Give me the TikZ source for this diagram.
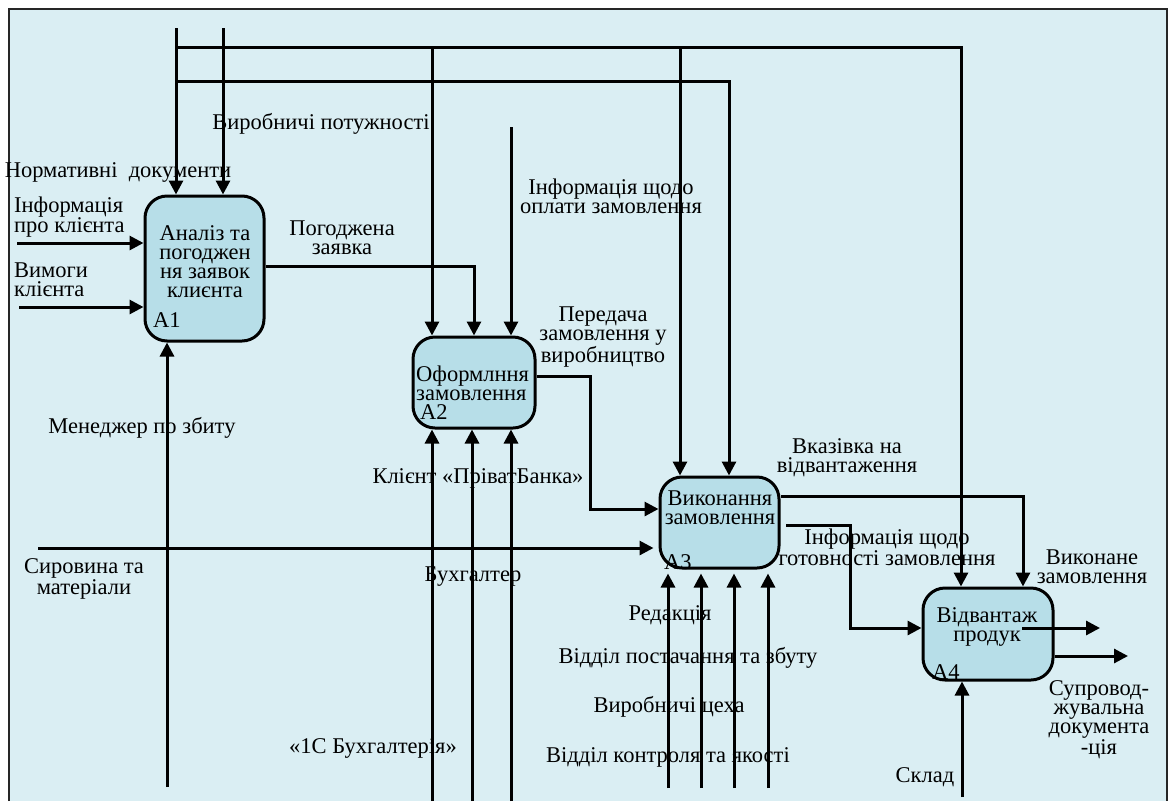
\documentclass[tikz,border=0pt]{standalone}
\usepackage{fontspec}
\setmainfont{Liberation Serif}
\usetikzlibrary{arrows.meta}
\definecolor{paper}{HTML}{DAEEF3}
\definecolor{boxfill}{HTML}{B7DEE8}

\begin{document}
\begin{tikzpicture}[x=1pt, y=-1pt,
  font=\fontsize{22.5}{19}\selectfont,
  func/.style={draw, line width=3pt, rounded corners=22pt, fill=boxfill},
  lbl/.style={inner sep=0pt, align=center},
  flow/.style={line width=3pt, -{Triangle[length=14pt,width=14pt]}}]
  \useasboundingbox (0,0) rectangle (1172,801);
  \fill[paper] (9,9) rectangle (1167,801);
  \draw[line width=2pt, black!85] (9,801) -- (9,9) -- (1167,9) -- (1167,801);

  % blocks A1..A4
  \node[func, minimum width=119pt, minimum height=145pt] (a1) at (204.5,268.5) {};
  \node[func, minimum width=122pt, minimum height=91pt] (a2) at (474,382.5) {};
  \node[func, minimum width=119pt, minimum height=91pt] (a3) at (719.5,522.5) {};
  \node[func, minimum width=130pt, minimum height=92pt] (a4) at (988,634) {};
  \node[lbl] (a1txt) at (205,262) {Аналіз та\\погоджен\\ня заявок\\клиєнта};
  \node[lbl, align=left, anchor=west] (a2txt) at (416,383) {Оформлння\\замовлення};
  \node[lbl] (a3txt) at (720,508) {Виконання\\замовлення};
  \node[lbl] (a4txt) at (987,627) {Відвантаж\\продук};
  \node[lbl, anchor=west] (a1num) at (153,320) {A1};
  \node[lbl, anchor=west] (a2num) at (420,412) {A2};
  \node[lbl, anchor=west] (a3num) at (664,562) {A3};
  \node[lbl, anchor=west] (a4num) at (932,672) {A4};

  % free ends and bends
  \coordinate (nd) at (176,28);
  \coordinate (vp) at (223,28);
  \coordinate (t1) at (176,47);
  \coordinate (p1) at (961,47);
  \coordinate (t2) at (176,81);
  \coordinate (p2) at (729,81);
  \coordinate (p3) at (432,47);
  \coordinate (p4) at (680,47);
  \coordinate (io) at (511,127);
  \coordinate (p5) at (474,266);
  \coordinate (p6) at (590,376);
  \coordinate (p7) at (590,509);
  \coordinate (p8) at (1023,496);
  \coordinate (p9) at (786,525);
  \coordinate (p10) at (850,525);
  \coordinate (p11) at (850,628);
  \coordinate (p12) at (1022,628);
  \coordinate (ik) at (17,243);
  \coordinate (vk) at (19,307);
  \coordinate (sm) at (38,548);
  \coordinate (mz) at (167,787);
  \coordinate (kp) at (432,801);
  \coordinate (bh) at (472,801);
  \coordinate (bc) at (511,801);
  \coordinate (red) at (668,788);
  \coordinate (vps) at (701,788);
  \coordinate (vc) at (734,788);
  \coordinate (vkj) at (768,788);
  \coordinate (skl) at (962,797);
  \coordinate (vz) at (1100,628);
  \coordinate (sd) at (1128,656);

  % controls
  \draw[flow] (nd) -- (nd |- a1.north);
  \draw[flow] (vp) -- (vp |- a1.north);
  \draw[flow] (t1) -- (p1) -- (p1 |- a4.north);
  \draw[flow] (t2) -- (p2) -- (p2 |- a3.north);
  \draw[flow] (p3) -- (p3 |- a2.north);
  \draw[flow] (p4) -- (p4 |- a3.north);
  \draw[flow] (io) -- (io |- a2.north);
  % inputs and outputs
  \draw[flow] (ik) -- (ik -| a1.west);
  \draw[flow] (vk) -- (vk -| a1.west);
  \draw[flow] (a1.east |- p5) -- (p5) -- (p5 |- a2.north);
  \draw[flow] (a2.east |- p6) -- (p6) -- (p7) -- (a3.west |- p7);
  \draw[flow, shorten >=5pt] (sm) -- (sm -| a3.west);
  \draw[flow] (a3.east |- p8) -- (p8) -- (p8 |- a4.north);
  \draw[flow] (p9) -- (p10) -- (p11) -- (p11 -| a4.west);
  \draw[flow] (p12) -- (vz);
  \draw[flow] (sd -| a4.east) -- (sd);
  % mechanisms
  \draw[flow] (mz) -- (mz |- a1.south);
  \draw[flow] (kp) -- (kp |- a2.south);
  \draw[flow] (bh) -- (bh |- a2.south);
  \draw[flow] (bc) -- (bc |- a2.south);
  \draw[flow, shorten >=4pt] (red) -- (red |- a3.south);
  \draw[flow, shorten >=4pt] (vps) -- (vps |- a3.south);
  \draw[flow, shorten >=4pt] (vc) -- (vc |- a3.south);
  \draw[flow, shorten >=4pt] (vkj) -- (vkj |- a3.south);
  \draw[flow] (skl) -- (skl |- a4.south);

  % arrow labels
  \node[lbl] (lnd) at (118,172) {Нормативні\ \ документи};
  \node[lbl] (lvp) at (321,124) {Виробничі потужності};
  \node[lbl, align=left, anchor=west] (lik) at (14,217) {Інформація\\про клієнта};
  \node[lbl, align=left, anchor=west] (lvk) at (14,280) {Вимоги\\клієнта};
  \node[lbl] (lpz) at (342,238) {Погоджена\\заявка};
  \node[lbl] (lio) at (611,196) {Інформація щодо\\оплати замовлення};
  \node[lbl] (lpv) at (603,337) {Передача\\замовлення у\\виробництво};
  \node[lbl] (lmz) at (142,428) {Менеджер по збиту};
  \node[lbl] (lkp) at (478,478) {Клієнт «ПріватБанка»};
  \node[lbl] (lsm) at (84,579) {Сировина та\\матеріали};
  \node[lbl] (lbh) at (473,577) {Бухгалтер};
  \node[lbl] (lbc) at (373,748) {«1С Бухгалтерія»};
  \node[lbl] (lvv) at (847,458) {Вказівка на\\відвантаження};
  \node[lbl] (lig) at (887,547) {Інформація щодо\\готовності замовлення};
  \node[lbl] (lvz) at (1092,567) {Виконане\\замовлення};
  \node[lbl] (lsd) at (1099,720) {Супровод-\\жувальна\\документа\\-ція};
  \node[lbl] (lred) at (670,615) {Редакція};
  \node[lbl] (lvps) at (688,658) {Відділ постачання та збуту};
  \node[lbl] (lvc) at (669,707) {Виробничі цеха};
  \node[lbl] (lvkj) at (668,757) {Відділ контроля та якості};
  \node[lbl] (lskl) at (925,777) {Склад};
\end{tikzpicture}
\end{document}
